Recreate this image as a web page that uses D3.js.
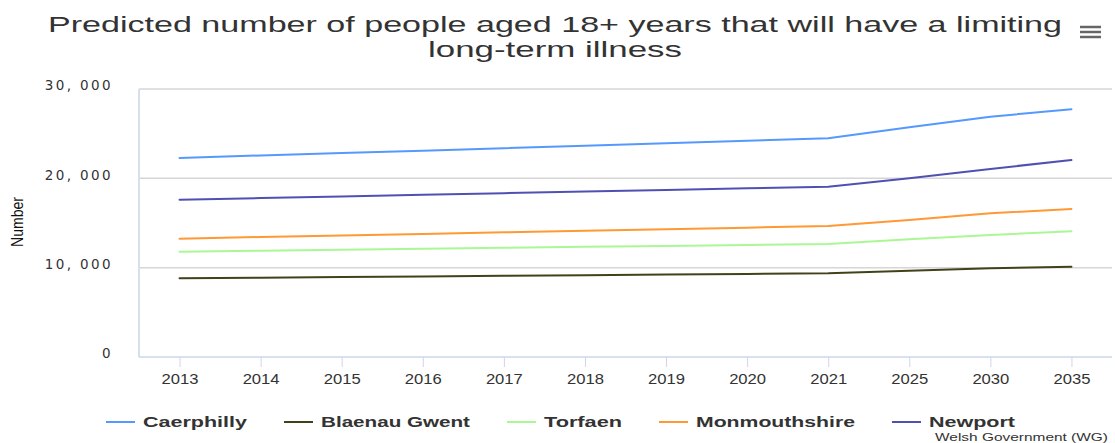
<!DOCTYPE html>
<html>
<head>
<meta charset="utf-8">
<script src="https://cdn.jsdelivr.net/npm/d3@7"></script>
<style>
  body { margin: 0; background: #fff; }
  svg { display: block; }
</style>
</head>
<body>
<div id="chart"></div>
<script>
/////////////////////////// data ///////////////////////////
var years = ["2013","2014","2015","2016","2017","2018","2019","2020","2021","2025","2030","2035"];
var seriesNames = ["Caerphilly", "Blaenau Gwent", "Torfaen", "Monmouthshire", "Newport"];
var caerphilly   = [22280, 22560, 22830, 23100, 23380, 23650, 23930, 24200, 24480, 25720, 26900, 27730];
var blaenauGwent = [8810, 8880, 8950, 9020, 9090, 9160, 9230, 9300, 9370, 9660, 9930, 10100];
var torfaen      = [11790, 11900, 12010, 12110, 12220, 12330, 12430, 12540, 12650, 13170, 13660, 14070];
var monmouth     = [13250, 13430, 13600, 13780, 13960, 14130, 14310, 14480, 14660, 15340, 16080, 16570];
var newport      = [17610, 17790, 17970, 18150, 18340, 18520, 18700, 18880, 19060, 20000, 21050, 22050];
var yTicks = [0, 10000, 20000, 30000];

var colors = ["#5599ff", "#42421a", "#aaf894", "#ff9933", "#5050b3"];
var allSeries = [caerphilly, blaenauGwent, torfaen, monmouth, newport];

/////////////////////////// layout ///////////////////////////
var wdim = 1115, hdim = 443;
var plot = {left: 139, right: 1112, top: 89, bottom: 357};
var narrow = "'Liberation Sans Narrow', 'Liberation Sans', Arial, sans-serif";

var svg = d3.select("#chart").append("svg")
  .attr("width", wdim)
  .attr("height", hdim);

var x = d3.scalePoint()
  .domain(years)
  .range([plot.left, plot.right])
  .padding(0.5);

var y = d3.scaleLinear()
  .domain([0, 30000])
  .range([plot.bottom, plot.top]);

/////////////////////////// title ///////////////////////////
svg.append("text")
  .attr("x", 555).attr("y", 32)
  .attr("text-anchor", "middle")
  .attr("textLength", 1014).attr("lengthAdjust", "spacingAndGlyphs")
  .style("font-family", narrow)
  .style("font-size", "22px")
  .style("fill", "#333")
  .text("Predicted number of people aged 18+ years that will have a limiting");

svg.append("text")
  .attr("x", 555).attr("y", 57)
  .attr("text-anchor", "middle")
  .attr("textLength", 254).attr("lengthAdjust", "spacingAndGlyphs")
  .style("font-family", narrow)
  .style("font-size", "22px")
  .style("fill", "#333")
  .text("long-term illness");

// menu icon
var menu = svg.append("g").attr("transform", "translate(1080,27)");
[0, 5, 10].forEach(function(d){
  menu.append("line")
    .attr("x1", 0).attr("x2", 21)
    .attr("y1", d).attr("y2", d)
    .attr("stroke", "#666")
    .attr("stroke-width", 2.5);
});

/////////////////////////// grid + axes ///////////////////////////
svg.append("g")
  .selectAll("line")
  .data(yTicks.slice(1))
  .enter().append("line")
  .attr("x1", plot.left).attr("x2", plot.right)
  .attr("y1", function(d){ return y(d); })
  .attr("y2", function(d){ return y(d); })
  .attr("stroke", "#d6d6d6")
  .attr("stroke-width", 1.5);

var yAxis = svg.append("g")
  .attr("transform", "translate(" + (plot.left - 23) + ",0)")
  .call(d3.axisLeft(y).tickValues(yTicks).tickSize(0)
    .tickFormat(function(d){ return d3.format(",")(d).replace(",", ", "); }));
yAxis.select(".domain").remove();
yAxis.selectAll("text")
  .attr("dy", "0.05em")
  .style("font-family", "'DejaVu Sans', Verdana, sans-serif")
  .style("font-size", "13.5px")
  .style("letter-spacing", "2.4px")
  .style("fill", "#333");

// left axis line
svg.append("line")
  .attr("x1", plot.left).attr("x2", plot.left)
  .attr("y1", plot.top).attr("y2", plot.bottom)
  .attr("stroke", "#d5dfee").attr("stroke-width", 2);

var xAxis = svg.append("g")
  .attr("transform", "translate(0," + plot.bottom + ")")
  .call(d3.axisBottom(x).tickSize(10).tickPadding(6));
xAxis.select(".domain")
  .attr("d", "M" + plot.left + ",0H" + plot.right)
  .attr("stroke", "#ccd6eb").attr("stroke-width", 1.5);
xAxis.selectAll(".tick line").attr("stroke", "#ccd6eb");
xAxis.selectAll("text")
  .attr("textLength", 37).attr("lengthAdjust", "spacingAndGlyphs")
  .style("font-family", narrow)
  .style("font-size", "15px")
  .style("fill", "#333");

svg.append("text")
  .attr("transform", "translate(23,222) rotate(-90)")
  .attr("text-anchor", "middle")
  .attr("textLength", 50).attr("lengthAdjust", "spacingAndGlyphs")
  .style("font-family", narrow)
  .style("font-size", "16px")
  .style("fill", "#111")
  .text("Number");

/////////////////////////// lines ///////////////////////////
var line = d3.line()
  .x(function(d, i){ return x(years[i]); })
  .y(function(d){ return y(d); });

svg.append("g")
  .selectAll("path")
  .data(allSeries)
  .enter().append("path")
  .attr("d", line)
  .attr("fill", "none")
  .attr("stroke", function(d, i){ return colors[i]; })
  .attr("stroke-width", 2)
  .attr("stroke-linejoin", "round")
  .attr("stroke-linecap", "round");

/////////////////////////// legend ///////////////////////////
var legendWidths = [104, 149, 78, 159, 86];
var legend = svg.append("g");
var lx = 106;
seriesNames.forEach(function(name, i){
  var g = legend.append("g").attr("transform", "translate(" + lx + ",422)");
  g.append("line")
    .attr("x1", 0).attr("x2", 29)
    .attr("y1", 0).attr("y2", 0)
    .attr("stroke", colors[i]).attr("stroke-width", 2);
  g.append("text")
    .attr("x", 37).attr("y", 5)
    .attr("textLength", legendWidths[i]).attr("lengthAdjust", "spacingAndGlyphs")
    .style("font-family", narrow)
    .style("font-size", "15px")
    .style("font-weight", "bold")
    .style("fill", "#333")
    .text(name);
  lx += 37 + legendWidths[i] + 37;
});

svg.append("text")
  .attr("x", 1108).attr("y", 441)
  .attr("text-anchor", "end")
  .attr("textLength", 173).attr("lengthAdjust", "spacingAndGlyphs")
  .style("font-family", narrow)
  .style("font-size", "11px")
  .style("fill", "#333")
  .text("Welsh Government (WG)");
</script>
</body>
</html>
